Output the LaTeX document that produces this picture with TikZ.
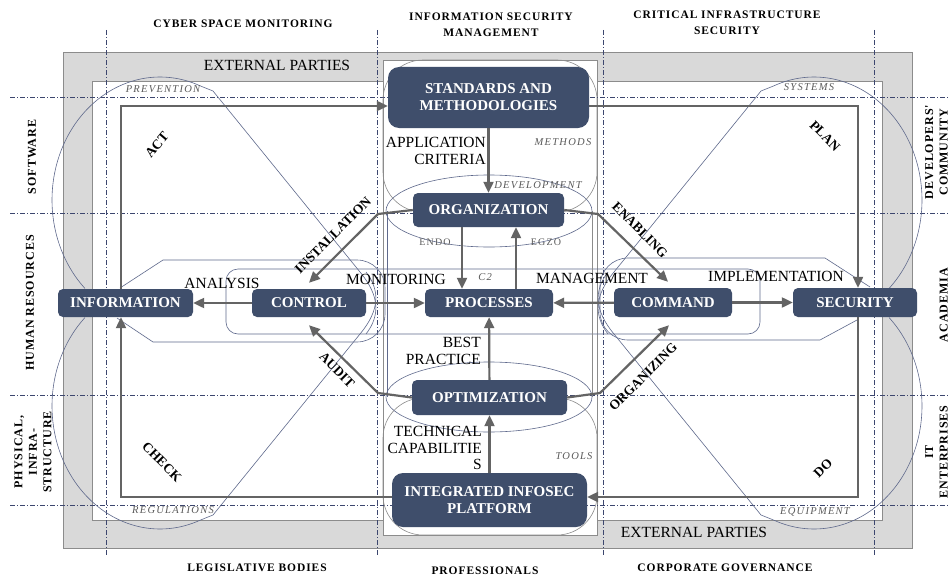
\documentclass[tikz,border=0pt]{standalone}
\usepackage{fontspec}
\setmainfont{Liberation Serif}
\newfontfamily\spacedfont[LetterSpace=8]{Liberation Serif}
\newfontfamily\tagfont[LetterSpace=12]{Liberation Serif}
\usetikzlibrary{arrows.meta}
\definecolor{boxblue}{RGB}{63,78,107}
\definecolor{bandgray}{RGB}{217,217,217}
\definecolor{framegray}{RGB}{140,140,140}
\definecolor{arrowgray}{RGB}{100,100,100}
\definecolor{outlblue}{RGB}{95,105,140}
\definecolor{gridblue}{RGB}{60,70,110}
\definecolor{taggray}{RGB}{90,90,90}

\begin{document}
\begin{tikzpicture}[x=1pt,y=-1pt,
    box_node/.style={rectangle, rounded corners=5pt, fill=boxblue, text=white, align=center, inner sep=0pt, font=\fontsize{15}{17}\selectfont\bfseries},
    flow_arrow/.style={draw=arrowgray, line width=2.2pt, -{Triangle[length=11pt,width=10pt]}},
    thin_line/.style={draw=outlblue, line width=0.6pt},
    soft_line/.style={draw=framegray, line width=0.6pt},
    grid_line/.style={draw=gridblue, line width=0.6pt, dash pattern=on 5pt off 2pt on 1pt off 2pt},
    word_text/.style={font=\fontsize{15.5}{16.5}\selectfont, inner sep=0pt},
    turn_text/.style={font=\bfseries\fontsize{13.5}{14}\selectfont, inner sep=0pt},
    tag_text/.style={font=\tagfont\itshape\fontsize{10.5}{11}\selectfont, text=taggray, inner sep=0pt},
    side_text/.style={font=\spacedfont\bfseries\fontsize{12}{14.5}\selectfont, align=center, inner sep=0pt},
    head_text/.style={font=\spacedfont\bfseries\fontsize{11.5}{16}\selectfont, align=center, inner sep=0pt}]
    \useasboundingbox (0,0) rectangle (950,578);

    \filldraw[fill=bandgray, draw=framegray, line width=0.8pt] (63,52) rectangle (912,548);
    \filldraw[fill=white, draw=framegray, line width=0.8pt] (92,81) rectangle (882,520);
    \filldraw[fill=white, draw=framegray, line width=0.8pt] (383,60) rectangle (597,535);

    \draw[grid_line] (106,30) -- (106,555);
    \draw[grid_line] (377,30) -- (377,555);
    \draw[grid_line] (603,30) -- (603,555);
    \draw[grid_line] (874,30) -- (874,555);
    \draw[grid_line] (10,97) -- (950,97);
    \draw[grid_line] (10,213) -- (950,213);
    \draw[grid_line] (10,395) -- (950,395);
    \draw[grid_line] (10,505) -- (950,505);

    % quadrant outlines
    \draw[thin_line] plot[domain=134:292, samples=50, smooth] ({160+108*cos(\x)},{200+123*sin(\x)}) -- (213,91) -- (360,272) .. controls (380,296) and (380,316) .. (366,334);
    \draw[thin_line] (366,272) .. controls (380,290) and (380,310) .. (360,334) -- (213,515) -- plot[domain=68:226, samples=50, smooth] ({160+108*cos(\x)},{406+123*sin(\x)});
    \draw[thin_line] (608,334) .. controls (594,316) and (594,296) .. (614,272) -- (761,91) -- plot[domain=248:406, samples=50, smooth] ({814+108*cos(\x)},{200+123*sin(\x)});
    \draw[thin_line] plot[domain=314:472, samples=50, smooth] ({814+108*cos(\x)},{406+123*sin(\x)}) -- (761,515) -- (614,334) .. controls (594,310) and (594,290) .. (608,272);

    \draw[thin_line] (120,288) -- (163,260) [rounded corners=28pt] -- (385,260) -- (385,342) [sharp corners] -- (153,342) -- (117,318);
    \draw[thin_line] (870,287) -- (825,258) [rounded corners=28pt] -- (600,258) -- (600,340) [sharp corners] -- (820,340) -- (857,320);
    \draw[thin_line, rounded corners=12pt] (226,269) rectangle (760,334);

    \draw[soft_line, rounded corners=40pt] (383,60) rectangle (597,212);
    \draw[soft_line, rounded corners=40pt] (383,398) rectangle (597,535);
    \draw[thin_line] (387,211) -- (387,397);
    \draw[soft_line] (592,211) -- (592,397);
    \draw[thin_line] (489,211) ellipse [x radius=103, y radius=36];
    \draw[thin_line] (489,397) ellipse [x radius=103, y radius=35];

    \node[box_node, rounded corners=11pt, minimum width=201pt, minimum height=61pt] (std) at (488.5,97.5) {STANDARDS AND\\METHODOLOGIES};
    \node[box_node, minimum width=151pt, minimum height=34pt] (org) at (488.5,210) {ORGANIZATION};
    \node[box_node, minimum width=128pt, minimum height=28pt] (proc) at (489,303) {PROCESSES};
    \node[box_node, minimum width=155pt, minimum height=35pt] (opt) at (489.5,397.5) {OPTIMIZATION};
    \node[box_node, rounded corners=11pt, minimum width=195pt, minimum height=54pt] (plat) at (489.5,500) {INTEGRATED INFOSEC\\PLATFORM};
    \node[box_node, minimum width=135pt, minimum height=28pt] (info) at (125.5,303) {INFORMATION};
    \node[box_node, minimum width=114pt, minimum height=28pt] (ctrl) at (309,303) {CONTROL};
    \node[box_node, minimum width=118pt, minimum height=29pt] (cmd) at (673,302.5) {COMMAND};
    \node[box_node, minimum width=124pt, minimum height=29pt] (sec) at (855,302.5) {SECURITY};

    \coordinate (instbend) at (378,214);
    \coordinate (enabbend) at (598,214);
    \coordinate (auditbend) at (378,393);
    \coordinate (orgzbend) at (600,393);

    \draw[flow_arrow] ([yshift=3pt]plat.west) -| ([xshift=-4.5pt]info.south);
    \draw[flow_arrow] ([xshift=-4.5pt]info.north) |- ([yshift=-8.5pt]std.west);
    \draw[flow_arrow] ([yshift=-8.5pt]std.east) -| ([xshift=3pt]sec.north);
    \draw[flow_arrow] ([xshift=3pt]sec.south) |- ([yshift=3pt]plat.east);

    \draw[flow_arrow] (std) -- (org);
    \draw[flow_arrow] ([xshift=-26.5pt]org.south) -- ([xshift=-27pt]proc.north);
    \draw[flow_arrow] ([xshift=27pt]proc.north) -- ([xshift=27.5pt]org.south);
    \draw[flow_arrow] (ctrl) -- (proc);
    \draw[flow_arrow] (ctrl) -- (info);
    \draw[flow_arrow] (cmd) -- (proc);
    \draw[flow_arrow] (cmd) -- (sec);
    \draw[flow_arrow] (opt) -- (proc);
    \draw[flow_arrow] (plat) -- (opt);
    \draw[flow_arrow] (org.west) -- (instbend) -- ([yshift=6pt]ctrl.north);
    \draw[flow_arrow] (org.east) -- (enabbend) -- ([xshift=-5pt,yshift=6pt]cmd.north);
    \draw[flow_arrow] (opt.west) -- (auditbend) -- ([yshift=-8pt]ctrl.south);
    \draw[flow_arrow] (opt.east) -- (orgzbend) -- ([xshift=-4pt,yshift=-8pt]cmd.south);

    \node[word_text, align=right, anchor=east] (appcrit) at (486,151) {APPLICATION\\CRITERIA};
    \node[word_text, align=right, anchor=east] (bestprac) at (481,351) {BEST\\PRACTICE};
    \node[word_text, align=right, anchor=east] (techcap) at (482,448) {TECHNICAL\\CAPABILITIE\\S};
    \node[word_text] (monit) at (396,279) {MONITORING};
    \node[word_text] (analys) at (222,283) {ANALYSIS};
    \node[word_text] (manag) at (592,278) {MANAGEMENT};
    \node[word_text] (implem) at (776,276) {IMPLEMENTATION};

    \node[turn_text, rotate=45] (instal) at (333,235) {INSTALLATION};
    \node[turn_text, rotate=-45] (enabl) at (640,230) {ENABLING};
    \node[turn_text, rotate=-45] (audit) at (337,370) {AUDIT};
    \node[turn_text, rotate=45] (orgzing) at (643,377) {ORGANIZING};
    \node[turn_text, rotate=50] (actlbl) at (157,145) {ACT};
    \node[turn_text, rotate=-45] (planlbl) at (825,136) {PLAN};
    \node[turn_text, rotate=-45] (checklbl) at (162,462) {CHECK};
    \node[turn_text, rotate=45] (dolbl) at (823,468) {DO};

    \node[tag_text] (prev) at (163,89) {PREVENTION};
    \node[tag_text] (syst) at (809,87) {SYSTEMS};
    \node[tag_text] (meth) at (563,142) {METHODS};
    \node[tag_text] (devel) at (538,185) {DEVELOPMENT};
    \node[tag_text] (tools) at (574,456) {TOOLS};
    \node[tag_text] (regul) at (173,510) {REGULATIONS};
    \node[tag_text] (equip) at (815,512) {EQUIPMENT};
    \node[tag_text] (ctwo) at (485,277) {C2};
    \node[tag_text, font=\tagfont\fontsize{10}{11}\selectfont] (endo) at (435,242) {ENDO};
    \node[tag_text, font=\tagfont\fontsize{10}{11}\selectfont] (egzo) at (546,242) {EGZO};

    \node[font=\fontsize{15.5}{15.5}\selectfont] (extop) at (277,65) {EXTERNAL PARTIES};
    \node[font=\fontsize{15.5}{15.5}\selectfont] (exbot) at (694,532) {EXTERNAL PARTIES};

    \node[head_text] (cyber) at (243,24) {CYBER SPACE MONITORING};
    \node[head_text] (ismgmt) at (491,25) {INFORMATION SECURITY\\MANAGEMENT};
    \node[head_text] (critinf) at (727,22.5) {CRITICAL INFRASTRUCTURE\\SECURITY};
    \node[head_text] (legis) at (257,568) {LEGISLATIVE BODIES};
    \node[head_text] (profs) at (485,571) {PROFESSIONALS};
    \node[head_text] (corpgov) at (725,568) {CORPORATE GOVERNANCE};

    \node[side_text, rotate=90] (softw) at (32,157) {SOFTWARE};
    \node[side_text, rotate=90] (humres) at (30,303) {HUMAN RESOURCES};
    \node[side_text, rotate=90] (physinf) at (33,452) {PHYSICAL,\\INFRA-\\STRUCTURE};
    \node[side_text, rotate=90, anchor=south] (devcom) at (948,152) {DEVELOPERS'\\COMMUNITY};
    \node[side_text, rotate=90, anchor=south] (acad) at (948,305) {ACADEMIA};
    \node[side_text, rotate=90, anchor=south] (itent) at (948,452) {IT\\ENTERPRISES};
\end{tikzpicture}
\end{document}
